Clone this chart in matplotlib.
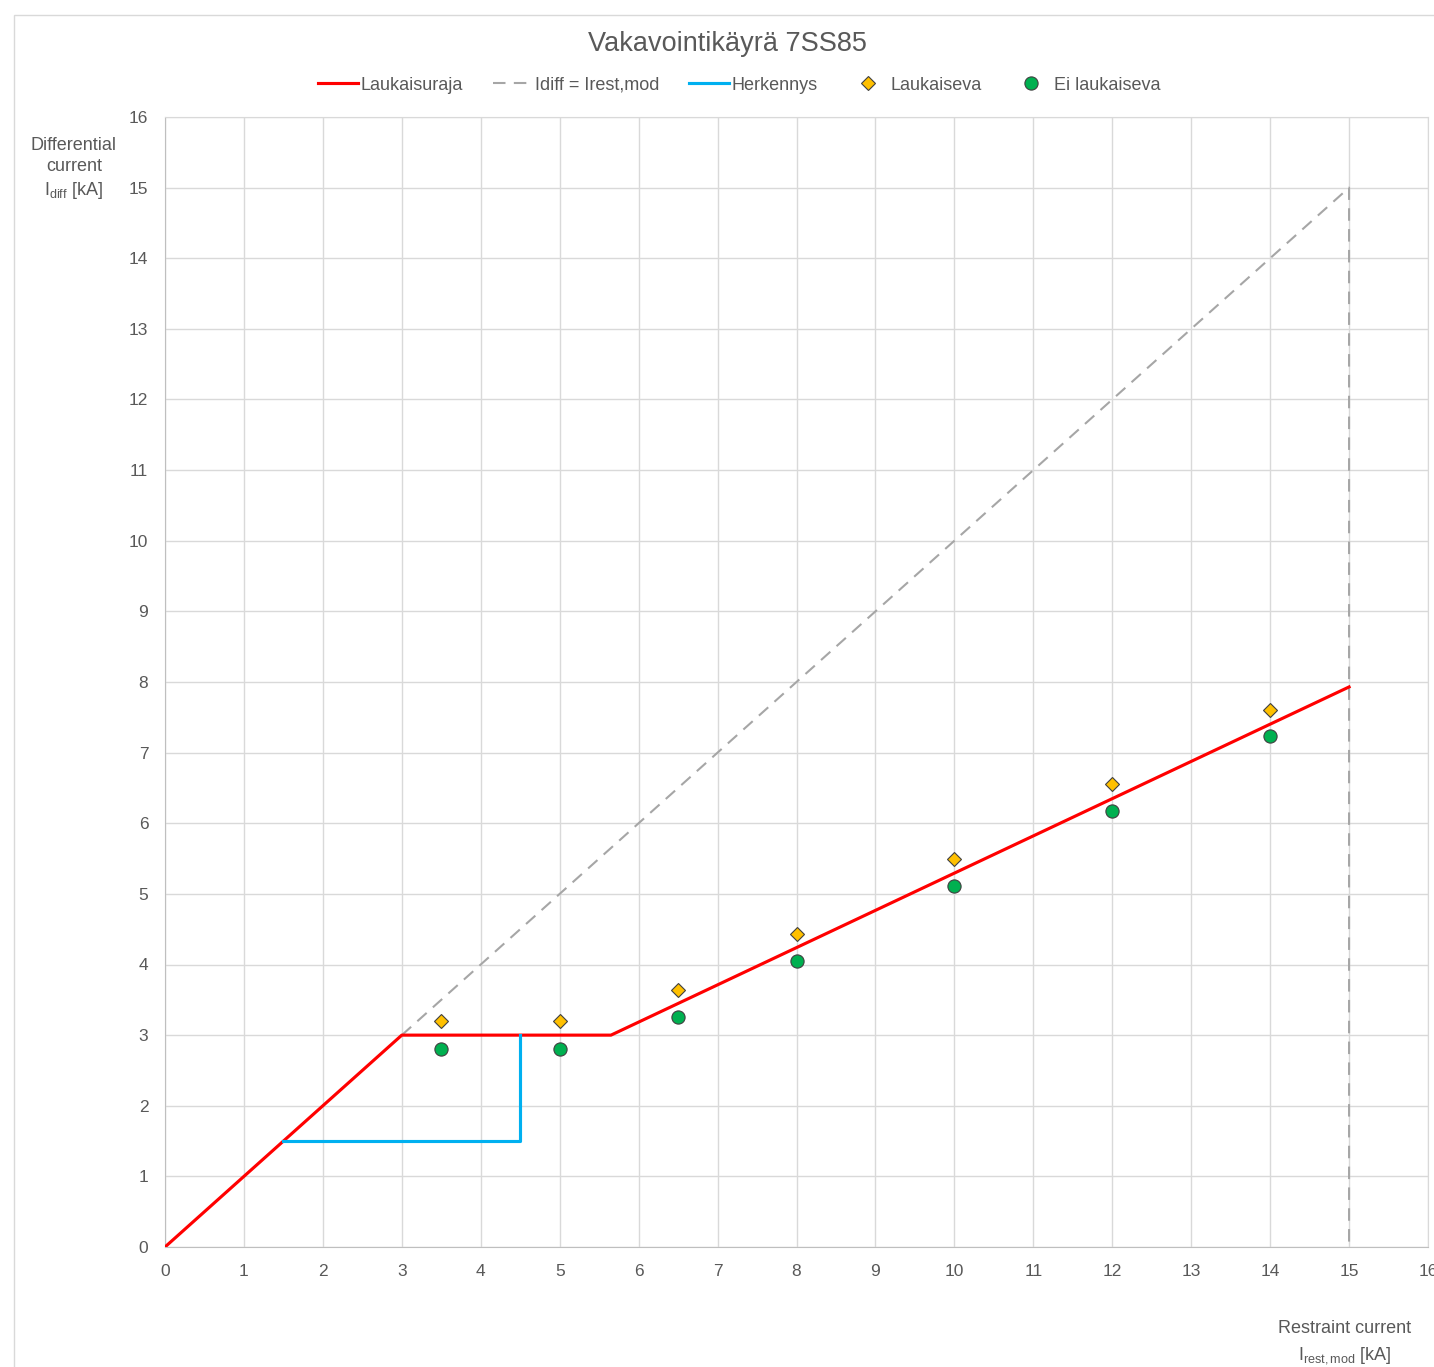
import matplotlib
matplotlib.use("Agg")
import matplotlib.pyplot as plt
from matplotlib.patches import Rectangle

plt.rcParams["font.family"] = ["Liberation Sans", "DejaVu Sans"]
plt.rcParams["mathtext.fontset"] = "custom"
plt.rcParams["mathtext.rm"] = "Liberation Sans"
plt.rcParams["mathtext.it"] = "Liberation Sans"

# trip characteristic
trip_x = [0, 1.5, 3, 5.65, 15]
trip_y = [0, 1.5, 3, 3, 7.93]
# Idiff = Irest,mod reference
ref_x = [3, 15, 15]
ref_y = [3, 15, 0]
# sensitivity
sens_x = [1.5, 4.5, 4.5]
sens_y = [1.5, 1.5, 3]
# test points
test_x = [3.5, 5, 6.5, 8, 10, 12, 14]
trip_pts = [3.20, 3.20, 3.64, 4.43, 5.49, 6.55, 7.60]
notrip_pts = [2.80, 2.80, 3.25, 4.05, 5.11, 6.17, 7.23]

text_c = "#595959"
grid_c = "#d9d9d9"

fig = plt.figure(figsize=(14.34, 13.67), dpi=100)
fig.patches.append(Rectangle((14 / 1434, -0.01), 1.1, 1 - 15 / 1367 + 0.01,
                             transform=fig.transFigure, fill=False,
                             edgecolor=grid_c, linewidth=1))
ax = fig.add_axes([165 / 1434, 120 / 1367, 1263 / 1434, 1130 / 1367])

ax.plot(trip_x, trip_y, color="#ff0000", lw=2.25, label="Laukaisuraja", zorder=4)
ax.plot(ref_x, ref_y, color="#a6a6a6", lw=1.5, dashes=(6, 4), label="Idiff = Irest,mod", zorder=3)
ax.plot(sens_x, sens_y, color="#00b0f0", lw=2.25, label="Herkennys", zorder=4)
ax.plot(test_x, trip_pts, ls="none", marker="D", ms=7.2, mfc="#ffc000",
        mec="#404040", mew=0.8, label="Laukaiseva", zorder=5)
ax.plot(test_x, notrip_pts, ls="none", marker="o", ms=9.5, mfc="#00b050",
        mec="#404040", mew=0.8, label="Ei laukaiseva", zorder=5)

ax.set_xlim(0, 16)
ax.set_ylim(0, 16)
ax.set_xticks(range(0, 17))
ax.set_yticks(range(0, 17))
ax.grid(True, color=grid_c, lw=1)
ax.set_axisbelow(True)
for s in ax.spines.values():
    s.set_color(grid_c)
ax.spines["left"].set_color("#bfbfbf")
ax.spines["bottom"].set_color("#bfbfbf")
ax.tick_params(length=0, labelsize=12.5, colors=text_c, pad=12)

fig.text(0.5075, 1 - 44 / 1367, "Vakavointikäyrä 7SS85", ha="center", va="center",
         fontsize=19.5, color=text_c)
fig.text(74 / 1434, 1 - 169 / 1367, "Differential\ncurrent\n$\\mathrm{I_{diff}}$ [kA]",
         ha="center", va="center", fontsize=13, color=text_c, linespacing=1.35)
fig.text(1345 / 1434, 1 - 1343 / 1367, "Restraint current\n$\\mathrm{I_{rest,mod}}$ [kA]",
         ha="center", va="center", fontsize=13, color=text_c, linespacing=1.5)

fig.legend(loc="center", bbox_to_anchor=(0.5155, 1 - 85 / 1367), ncol=5, frameon=False,
           fontsize=13, labelcolor=text_c, handlelength=2.2, handletextpad=0.15,
           columnspacing=1.65)

fig.savefig("out.png", dpi=100)
